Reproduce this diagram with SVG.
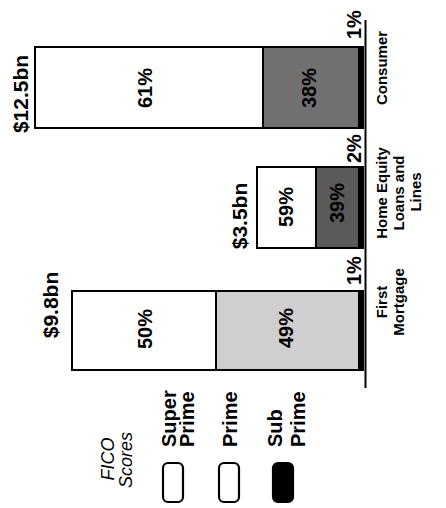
<svg xmlns="http://www.w3.org/2000/svg" width="446" height="508" viewBox="0 0 446 508">
<style>
  .t { font-family: "Liberation Sans", Arial, sans-serif; font-weight: bold; fill: #000; }
  .big { font-size: 21px; }
  .pct { font-size: 20px; }
  .cat { font-size: 15px; }
  .leg { font-size: 20px; }
  .fico { font-family: "Liberation Sans", Arial, sans-serif; font-style: italic; font-size: 18px; fill: #000; }
  .bar { stroke: #000; stroke-width: 2; }
  .sp { fill: #fff; }
  .sub { fill: #000; }
  .box { stroke: #000; stroke-width: 2.2; }
</style>
<rect width="446" height="508" fill="#fff"/>

<g id="axis">
  <line x1="365.5" y1="20" x2="365.5" y2="388" stroke="#000" stroke-width="2"/>
</g>

<g id="bar-consumer">
  <rect class="sp" x="35" y="47" width="228" height="81"/>
  <rect x="263" y="47" width="95" height="81" fill="#707070"/>
  <rect class="sub" x="358" y="47" width="5" height="81"/>
  <rect class="bar" x="35" y="47" width="328" height="81" fill="none"/>
  <line class="bar" x1="263" y1="47" x2="263" y2="128"/>
  <text class="t big" transform="rotate(-90 28 94)" x="28" y="94" text-anchor="middle">$12.5bn</text>
  <text class="t pct" transform="rotate(-90 152 88)" x="152" y="88" text-anchor="middle">61%</text>
  <text class="t pct" transform="rotate(-90 316 88)" x="316" y="88" text-anchor="middle">38%</text>
  <text class="t pct" transform="rotate(-90 361 39)" x="361" y="39">1%</text>
  <text class="t cat" transform="rotate(-90 387 68)" x="387" y="68" text-anchor="middle">Consumer</text>
</g>

<g id="bar-home-equity">
  <rect class="sp" x="257" y="167" width="59" height="81"/>
  <rect x="316" y="167" width="42" height="81" fill="#5a5a5a"/>
  <rect class="sub" x="358" y="167" width="5" height="81"/>
  <rect class="bar" x="257" y="167" width="106" height="81" fill="none"/>
  <line class="bar" x1="316" y1="167" x2="316" y2="248"/>
  <text class="t big" transform="rotate(-90 247 216)" x="247" y="216" text-anchor="middle">$3.5bn</text>
  <text class="t pct" transform="rotate(-90 293 207)" x="293" y="207" text-anchor="middle">59%</text>
  <text class="t pct" transform="rotate(-90 344 203)" x="344" y="203" text-anchor="middle">39%</text>
  <text class="t pct" transform="rotate(-90 361 163)" x="361" y="163">2%</text>
  <text class="t cat" transform="rotate(-90 387 193)" x="387" y="193" text-anchor="middle">Home Equity</text>
  <text class="t cat" transform="rotate(-90 404 193)" x="404" y="193" text-anchor="middle">Loans and</text>
  <text class="t cat" transform="rotate(-90 421 192)" x="421" y="192" text-anchor="middle">Lines</text>
</g>

<g id="bar-first-mortgage">
  <rect class="sp" x="72" y="291" width="144" height="79"/>
  <rect x="216" y="291" width="142" height="79" fill="#cfcfcf"/>
  <rect class="sub" x="358" y="291" width="5" height="79"/>
  <rect class="bar" x="72" y="291" width="291" height="79" fill="none"/>
  <line class="bar" x1="216" y1="291" x2="216" y2="370"/>
  <text class="t big" transform="rotate(-90 58 305)" x="58" y="305" text-anchor="middle">$9.8bn</text>
  <text class="t pct" transform="rotate(-90 152 329)" x="152" y="329" text-anchor="middle">50%</text>
  <text class="t pct" transform="rotate(-90 293 328)" x="293" y="328" text-anchor="middle">49%</text>
  <text class="t pct" transform="rotate(-90 361 285)" x="361" y="285">1%</text>
  <text class="t cat" transform="rotate(-90 387 302)" x="387" y="302" text-anchor="middle">First</text>
  <text class="t cat" transform="rotate(-90 404 302)" x="404" y="302" text-anchor="middle">Mortgage</text>
</g>

<g id="legend-title">
  <text class="fico" transform="rotate(-90 114 459)" x="114" y="459" text-anchor="middle">FICO</text>
  <text class="fico" transform="rotate(-90 132 460)" x="132" y="460" text-anchor="middle">Scores</text>
</g>

<g id="legend-super-prime">
  <rect class="box" x="163" y="463" width="20" height="39" rx="5" fill="#fff"/>
  <text class="t leg" transform="rotate(-90 176 447)" x="176" y="447">Super</text>
  <text class="t leg" transform="rotate(-90 194 447)" x="194" y="447">Prime</text>
</g>

<g id="legend-prime">
  <rect class="box" x="219" y="463" width="20" height="39" rx="5" fill="#fff"/>
  <text class="t leg" transform="rotate(-90 237 447)" x="237" y="447">Prime</text>
</g>

<g id="legend-sub-prime">
  <rect class="box" x="273" y="463" width="20" height="39" rx="5" fill="#000"/>
  <text class="t leg" transform="rotate(-90 282 447)" x="282" y="447">Sub</text>
  <text class="t leg" transform="rotate(-90 305 447)" x="305" y="447">Prime</text>
</g>
</svg>
